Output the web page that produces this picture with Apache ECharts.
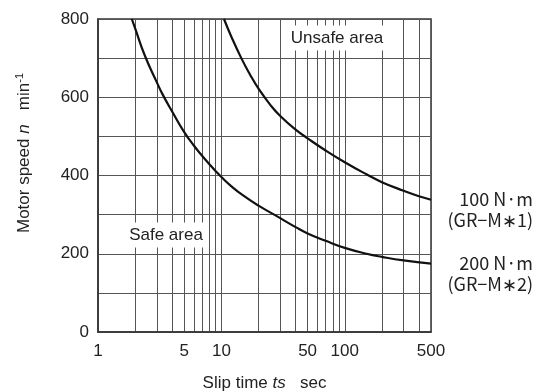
<!DOCTYPE html>
<html>
<head>
<meta charset="utf-8">
<script src="https://cdn.jsdelivr.net/npm/echarts@6/dist/echarts.min.js"></script>
<style>html,body{margin:0;padding:0;background:#fff;}#c{width:543px;height:392px;}</style>
</head>
<body>
<div id="c"></div>
<script>
// Slip time (sec) grid values and tick labels
const xGridValues = [1,2,3,4,5,6,7,8,9,10,20,30,40,50,60,70,80,90,100,200,300,400,500];
const xLabelValues = [1,5,10,50,100,500];
const yLabelValues = [0,200,400,600,800];

// 100 N·m (GR-M*1)
const t100 = [10.5, 12, 14.5, 17, 20, 25, 30, 40, 50, 70, 100, 150, 200, 300, 400, 500];
const n100 = [800, 756, 700, 659, 622, 580, 552, 517, 495, 464, 434, 403, 383, 361, 347, 338];

// 200 N·m (GR-M*2)
const t200 = [1.88, 2, 2.4, 3, 3.33, 4, 5, 6, 7, 8, 9, 10, 12, 15, 20, 30, 40, 50, 70, 100, 150, 200, 300, 500];
const n200 = [800, 776, 706, 638, 608, 563, 511, 476, 450, 429, 411, 396, 373, 349, 323, 291, 268, 252, 233, 215, 200, 192, 183, 175];

const label100 = ['100 N·m', '(GR−M∗1)'];
const label200 = ['200 N·m', '(GR−M∗2)'];

const FONT = 'Liberation Sans, Arial, sans-serif';
const CJK = '"Noto Sans CJK JP", sans-serif';
const gridColor = '#555';

function pairs(t, n) { return t.map((v, i) => [v, n[i]]); }

function endLab(lines) {
  return {
    show: true,
    formatter: () => '{a|' + lines[0] + '}\n{a|' + lines[1] + '}',
    align: 'right',
    verticalAlign: 'middle',
    distance: 0,
    offset: [102, 10],
    rich: { a: { fontFamily: CJK, fontSize: 18, color: '#222', lineHeight: 21, align: 'right' } }
  };
}

const chart = echarts.init(document.getElementById('c'), null, { renderer: 'canvas' });
chart.setOption({
  animation: false,
  backgroundColor: '#fff',
  grid: { left: 98, right: 112, top: 19, bottom: 60, outerBoundsMode: 'none', containLabel: false, show: true, borderColor: '#333', borderWidth: 1.5, backgroundColor: 'transparent' },
  xAxis: {
    type: 'log', logBase: 10, min: 1, max: 500,
    name: '{a|Slip time }{i|ts}{a|   sec}',
    nameLocation: 'middle', nameGap: 43,
    nameTextStyle: { rich: { a: { fontFamily: FONT, fontSize: 17, color: '#222' }, i: { fontFamily: FONT, fontSize: 17, fontStyle: 'italic', color: '#222' } } },
    axisLine: { show: true, lineStyle: { color: '#333', width: 1.5 } },
    axisTick: { show: false, customValues: xGridValues },
    splitLine: { show: true, lineStyle: { color: gridColor, width: 1 } },
    minorSplitLine: { show: false },
    axisLabel: { customValues: xLabelValues, margin: 11, fontFamily: FONT, fontSize: 17, color: '#222', showMinLabel: true, showMaxLabel: true }
  },
  yAxis: {
    type: 'value', min: 0, max: 800, interval: 100,
    axisLine: { show: true, lineStyle: { color: '#333', width: 1.5 } },
    axisTick: { show: false },
    splitLine: { show: true, lineStyle: { color: gridColor, width: 1 } },
    axisLabel: { customValues: yLabelValues, margin: 9, fontFamily: FONT, fontSize: 17, color: '#222' }
  },
  graphic: [
    {
      type: 'text', x: 24, y: 153, rotation: Math.PI / 2, z: 100,
      style: {
        text: '{a|Motor speed }{i|n}{a|   min}{s|-1}',
        align: 'center', verticalAlign: 'middle',
        rich: {
          a: { fontFamily: FONT, fontSize: 17, fill: '#222', lineHeight: 20 },
          i: { fontFamily: FONT, fontSize: 17, fontStyle: 'italic', fill: '#222', lineHeight: 20 },
          s: { fontFamily: FONT, fontSize: 11, fill: '#222', lineHeight: 20, verticalAlign: 'top' }
        }
      }
    },
    {
      type: 'text', x: 337, y: 38, z: 100,
      style: { text: 'Unsafe area', font: '17px ' + FONT, fill: '#222', align: 'center', verticalAlign: 'middle', backgroundColor: '#fff', padding: [4, 5, 4, 5] }
    },
    {
      type: 'text', x: 166, y: 235, z: 100,
      style: { text: 'Safe area', font: '17px ' + FONT, fill: '#222', align: 'center', verticalAlign: 'middle', backgroundColor: '#fff', padding: [4, 6, 4, 6] }
    }
  ],
  series: [
    {
      name: label100.join(' '), type: 'line', data: pairs(t100, n100), smooth: 0.5,
      showSymbol: false, lineStyle: { color: '#111', width: 2.2 }, z: 10,
      endLabel: endLab(label100)
    },
    {
      name: label200.join(' '), type: 'line', data: pairs(t200, n200), smooth: 0.5,
      showSymbol: false, lineStyle: { color: '#111', width: 2.2 }, z: 10,
      endLabel: endLab(label200)
    }
  ]
});
</script>
</body>
</html>
